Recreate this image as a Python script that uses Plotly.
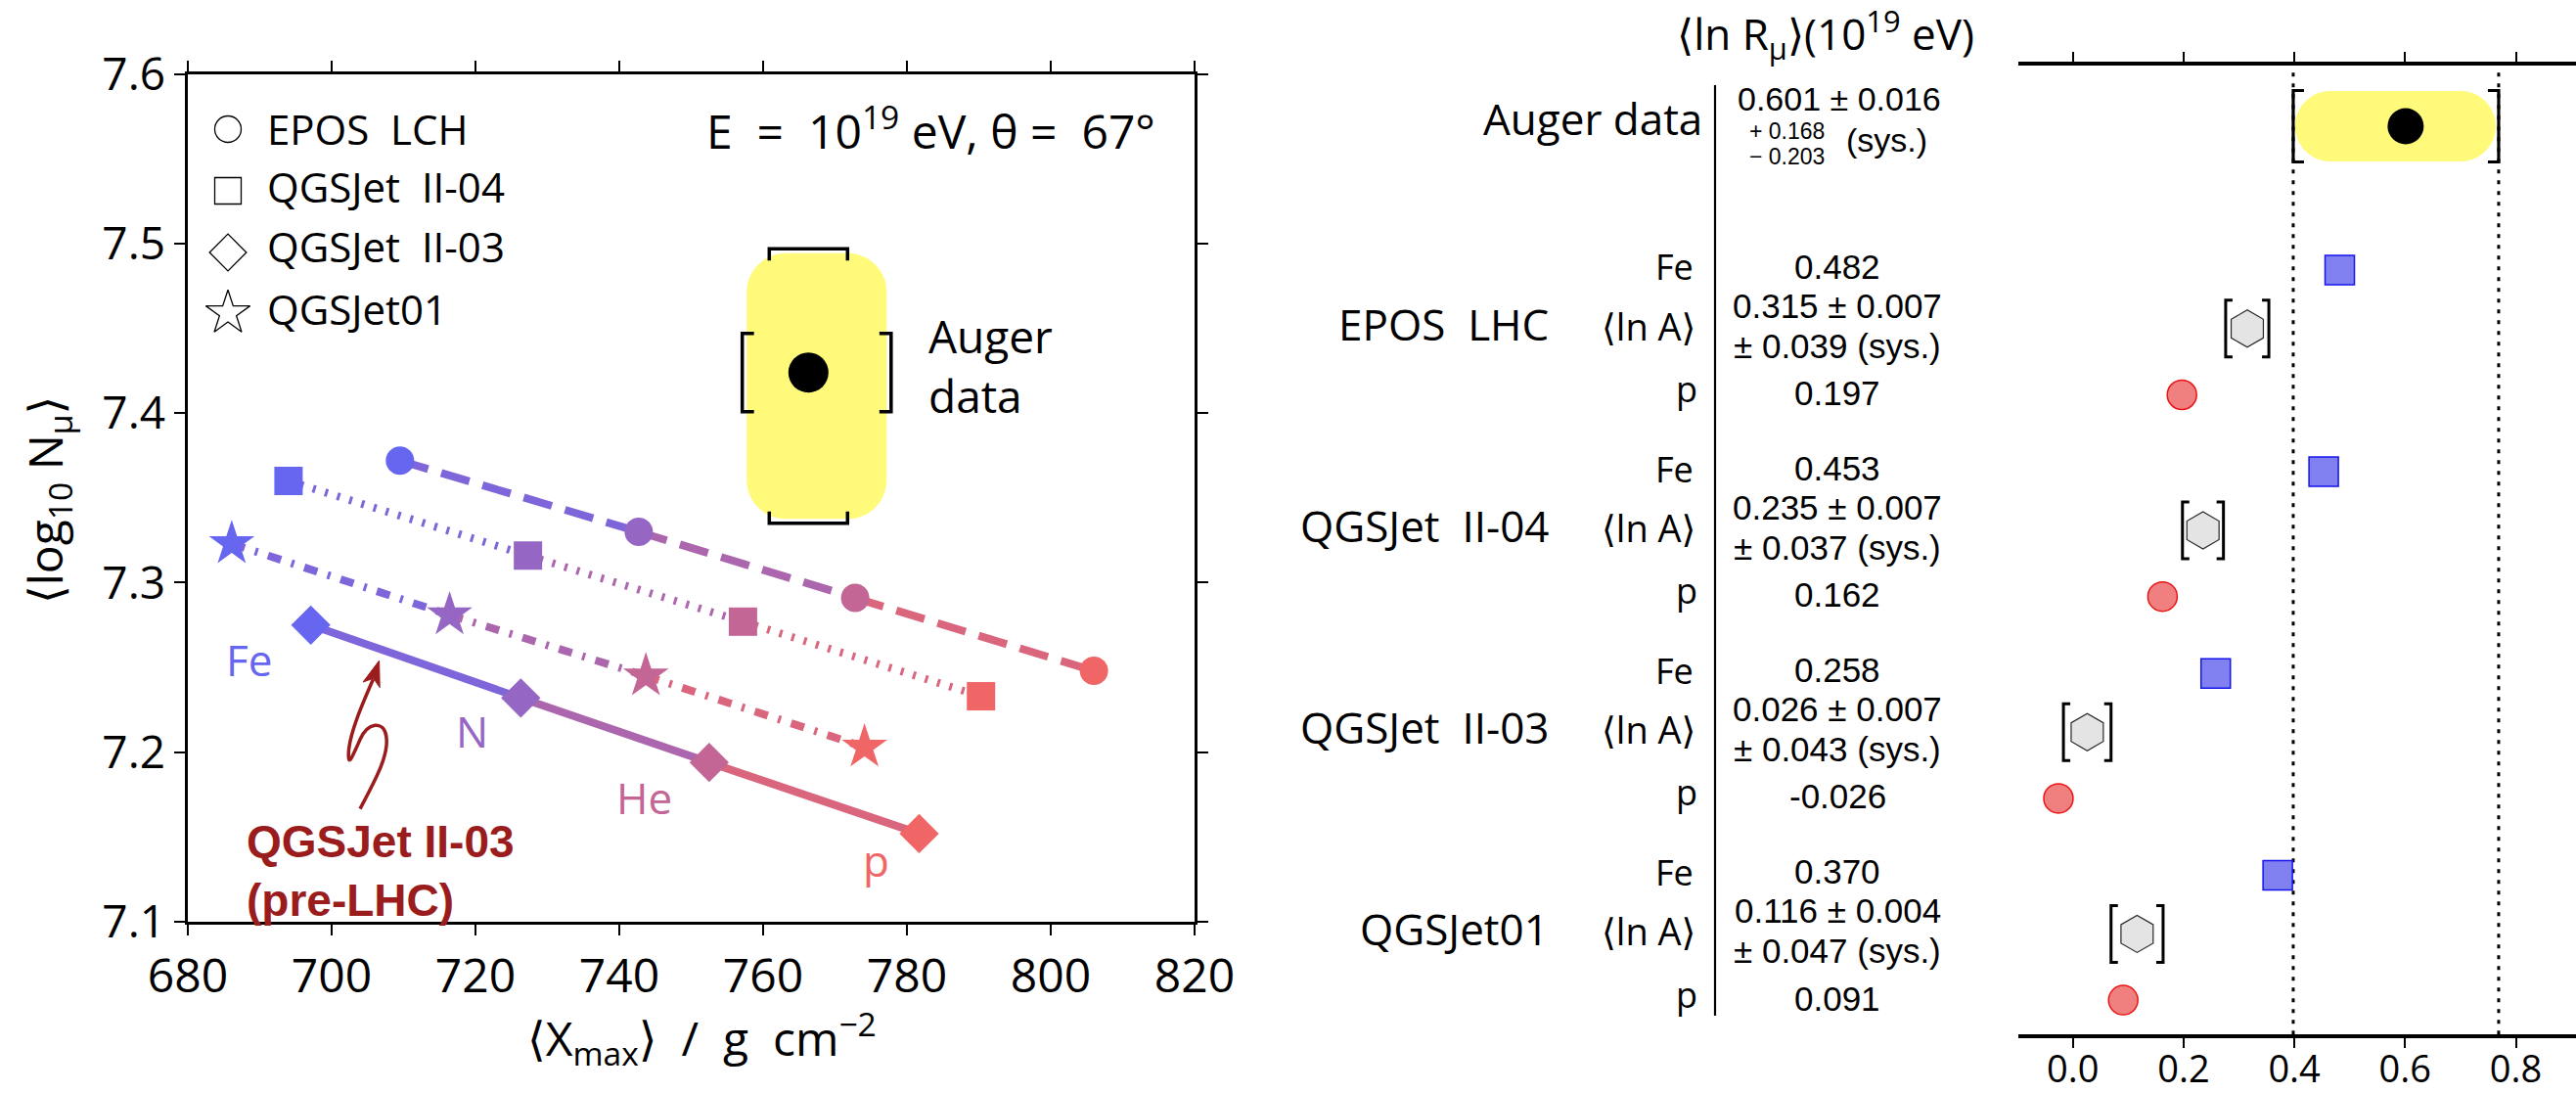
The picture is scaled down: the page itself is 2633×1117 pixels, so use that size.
import plotly.graph_objects as go

W, H = 2633, 1117
FONT = "Open Sans, Noto Sans, DejaVu Sans, sans-serif"
NUM_FONT = "Liberation Sans, Arial, Helvetica, sans-serif"
BOLD_FONT = "Liberation Sans, Arial, Helvetica, sans-serif"

# ---------------- left panel: <Xmax> vs <log10 N_mu> (E = 1e19 eV, 67 deg) ----------------
elements = ["Fe", "N", "He", "p"]

epos_xmax = [709.5, 742.7, 772.8, 806.0]
epos_lgn = [7.372, 7.330, 7.291, 7.248]
qgsjet_ii04_xmax = [694.0, 727.3, 757.2, 790.3]
qgsjet_ii04_lgn = [7.360, 7.316, 7.277, 7.233]
qgsjet_ii03_xmax = [697.1, 726.3, 752.5, 781.7]
qgsjet_ii03_lgn = [7.275, 7.232, 7.194, 7.152]
qgsjet01_xmax = [686.1, 716.4, 743.7, 774.1]
qgsjet01_lgn = [7.323, 7.281, 7.245, 7.203]

auger_xmax = 766.3
auger_xmax_sys = [9.2, 11.5]      # (minus, plus)
auger_lgn = 7.424
auger_lgn_sys = [0.089, 0.073]    # (minus, plus)

legend_names = ["EPOS\u00a0 LCH", "QGSJet\u00a0 II-04", "QGSJet\u00a0 II-03", "QGSJet01"]

x_tick_values = [680, 700, 720, 740, 760, 780, 800, 820]
y_tick_values = [7.1, 7.2, 7.3, 7.4, 7.5, 7.6]

# ---------------- right panel: <ln R_mu> at 1e19 eV ----------------
model_names = ["EPOS\u00a0 LHC", "QGSJet\u00a0 II-04", "QGSJet\u00a0 II-03", "QGSJet01"]
lnr_fe = [0.482, 0.453, 0.258, 0.370]
lnr_p = [0.197, 0.162, -0.026, 0.091]
lna_mean = [0.315, 0.235, 0.026, 0.116]
lna_stat = [0.007, 0.007, 0.007, 0.004]
lna_sys = [0.039, 0.037, 0.043, 0.047]

auger_lnr = 0.601
auger_lnr_stat = 0.016
auger_lnr_sys = [0.203, 0.168]    # (minus, plus)

lnr_tick_values = [0.0, 0.2, 0.4, 0.6, 0.8]

# ---------------- geometry (page pixels) ----------------
L_LEFT, L_RIGHT, L_TOP, L_BOTTOM = 192.0, 1221.0, 75.7, 942.0
X_RANGE = [680, 820]
Y_RANGE = [7.1, 7.6]
PX_X = (L_RIGHT - L_LEFT) / (X_RANGE[1] - X_RANGE[0])
PX_Y = (L_BOTTOM - L_TOP) / (Y_RANGE[1] - Y_RANGE[0])


def lx(px):
    return X_RANGE[0] + (px - L_LEFT) / PX_X


def ly(py):
    return Y_RANGE[1] - (py - L_TOP) / PX_Y


R_LEFT, R_TOP, R_BOTTOM = 2063.0, 67.2, 1057.3
R_ZERO, R_PX = 2118.7, 566.0
R_RANGE = [(R_LEFT - R_ZERO) / R_PX, (W - R_ZERO) / R_PX]

# row layout of the right panel (y2 axis runs in page pixels, top to bottom)
AUGER_ROW = 129.0
FIRST_ROW, GROUP_STEP, LNA_OFF, P_OFF = 275.9, 206.2, 59.9, 127.6
fe_rows = [FIRST_ROW + GROUP_STEP * g for g in range(len(model_names))]
lna_rows = [r + LNA_OFF for r in fe_rows]
p_rows = [r + P_OFF for r in fe_rows]

element_rgb = [(102, 102, 240), (150, 102, 196), (195, 102, 150), (240, 102, 102)]


def rgb(c):
    return "rgb(%d,%d,%d)" % c


def mix(c1, c2):
    return tuple(int(round((a + b) / 2)) for a, b in zip(c1, c2))


def rounded_rect(x0, x1, y0, y1, rx, ry):
    k = 0.5523
    return (f"M{x0 + rx},{y0} L{x1 - rx},{y0} "
            f"C{x1 - rx + k * rx},{y0} {x1},{y0 + ry - k * ry} {x1},{y0 + ry} "
            f"L{x1},{y1 - ry} "
            f"C{x1},{y1 - ry + k * ry} {x1 - rx + k * rx},{y1} {x1 - rx},{y1} "
            f"L{x0 + rx},{y1} "
            f"C{x0 + rx - k * rx},{y1} {x0},{y1 - ry + k * ry} {x0},{y1 - ry} "
            f"L{x0},{y0 + ry} "
            f"C{x0},{y0 + ry - k * ry} {x0 + rx - k * rx},{y0} {x0 + rx},{y0} Z")


def ann(text, xpx, ypx, size, xanchor="center", color="black", family=FONT, **kw):
    return dict(xref="paper", yref="paper", x=xpx / W, y=1 - ypx / H, text=text,
                showarrow=False, xanchor=xanchor, yanchor="middle",
                font=dict(family=family, size=size, color=color), **kw)


fig = go.Figure()
shapes = []
annotations = []

# ---------------- left panel: model lines ----------------
models_left = [
    (epos_xmax, epos_lgn, "30px,14px", "circle", 29),
    (qgsjet_ii04_xmax, qgsjet_ii04_lgn, "3px,10px", "square", 29),
    (qgsjet_ii03_xmax, qgsjet_ii03_lgn, "solid", "diamond", 31),
    (qgsjet01_xmax, qgsjet01_lgn, "14px,11px,3px,11px", "star", 35),
]
for xs, ys, dash, sym, size in models_left:
    for i in range(len(xs) - 1):
        fig.add_trace(go.Scatter(
            x=xs[i:i + 2], y=ys[i:i + 2], mode="lines", xaxis="x", yaxis="y",
            line=dict(color=rgb(mix(element_rgb[i], element_rgb[i + 1])), width=8, dash=dash),
            hoverinfo="skip"))
for xs, ys, dash, sym, size in models_left:
    fig.add_trace(go.Scatter(
        x=xs, y=ys, mode="markers", xaxis="x", yaxis="y",
        marker=dict(symbol=sym, size=size, color=[rgb(c) for c in element_rgb], line=dict(width=0))))

# element labels next to the QGSJet II-03 points
label_shift = [(-63, -35), (-50, -34), (-66, -36), (-44, -27)]
for i, el in enumerate(elements):
    annotations.append(dict(xref="x", yref="y", x=qgsjet_ii03_xmax[i], y=qgsjet_ii03_lgn[i],
                            text=el, showarrow=False, xanchor="center", yanchor="middle",
                            xshift=label_shift[i][0], yshift=label_shift[i][1],
                            font=dict(family=FONT, size=44, color=rgb(element_rgb[i]))))

# ---------------- left panel: Auger measurement ----------------
x_lo = auger_xmax - auger_xmax_sys[0]
x_hi = auger_xmax + auger_xmax_sys[1]
y_lo = auger_lgn - auger_lgn_sys[0]
y_hi = auger_lgn + auger_lgn_sys[1]
inset = 4.5
shapes.append(dict(type="path", xref="x", yref="y", layer="below",
                   path=rounded_rect(x_lo + inset / PX_X, x_hi - inset / PX_X,
                                     y_lo + inset / PX_Y, y_hi - inset / PX_Y,
                                     40 / PX_X, 40 / PX_Y),
                   fillcolor="#FFFA7A", line=dict(width=0)))
cap, tick = 40.0, 12.0
for yb, sgn in ((y_hi, -1), (y_lo, 1)):
    xa, xb = auger_xmax - cap / PX_X, auger_xmax + cap / PX_X
    yt = yb + sgn * tick / PX_Y
    shapes.append(dict(type="path", xref="x", yref="y",
                       path=f"M{xa},{yt} L{xa},{yb} L{xb},{yb} L{xb},{yt}",
                       line=dict(color="black", width=3.5)))
for xb, sgn in ((x_lo, 1), (x_hi, -1)):
    ya, yb2 = auger_lgn - cap / PX_Y, auger_lgn + cap / PX_Y
    xt = xb + sgn * tick / PX_X
    shapes.append(dict(type="path", xref="x", yref="y",
                       path=f"M{xt},{ya} L{xb},{ya} L{xb},{yb2} L{xt},{yb2}",
                       line=dict(color="black", width=3.5)))
fig.add_trace(go.Scatter(x=[auger_xmax], y=[auger_lgn], mode="markers", xaxis="x", yaxis="y",
                         marker=dict(symbol="circle", size=41, color="black")))
annotations.append(ann("Auger", 947, 343, 46, xanchor="left"))
annotations.append(ann("data", 947, 404, 46, xanchor="left"))

# ---------------- left panel: legend of interaction models ----------------
legend_rows = [132, 195, 258, 320]
legend_text_rows = [132, 190, 252, 315]
legend_syms = [("circle", 27), ("square", 27), ("diamond", 29), ("star", 34)]
for (sym, size), row in zip(legend_syms, legend_rows):
    fig.add_trace(go.Scatter(x=[lx(233)], y=[ly(row)], mode="markers", xaxis="x", yaxis="y",
                             marker=dict(symbol=sym, size=size, color="white",
                                         line=dict(color="black", width=1.3))))
for name, row in zip(legend_names, legend_text_rows):
    annotations.append(ann(name, 271, row, 42, xanchor="left"))

annotations.append(ann("E\u00a0 =\u00a0 10<sup>19</sup> eV, \u03b8 =\u00a0 67\u00b0", 1183, 131, 48,
                       xanchor="right"))

# pre-LHC annotation with a curled arrow
PRE_LHC = "rgb(155,28,28)"
annotations.append(ann("<b>QGSJet II-03</b>", 250, 860, 46, xanchor="left", color=PRE_LHC,
                       family=BOLD_FONT))
annotations.append(ann("<b>(pre-LHC)</b>", 250, 920, 46, xanchor="left", color=PRE_LHC,
                       family=BOLD_FONT))
curl = [(368.0, 826.6),
        (382.5, 799.1), (398.3, 771.5), (394.7, 751.9),
        (392.0, 736.1), (375.8, 738.1), (368.0, 755.8),
        (360.1, 773.5), (356.2, 783.3), (356.2, 771.5),
        (356.2, 751.9), (369.9, 720.4), (381.5, 694.0)]
pts = [f"{lx(px)},{ly(py)}" for px, py in curl]
curl_path = "M" + pts[0] + " " + " ".join(
    "C" + " ".join(pts[i:i + 3]) for i in range(1, len(pts), 3))
shapes.append(dict(type="path", xref="x", yref="y", path=curl_path,
                   line=dict(color=PRE_LHC, width=3.5)))
tip = (387.6, 675.1)
d = (tip[0] - 381.5, tip[1] - 694.0)
n = (d[0] ** 2 + d[1] ** 2) ** 0.5
d = (d[0] / n, d[1] / n)
perp = (-d[1], d[0])
base = (tip[0] - 26 * d[0], tip[1] - 26 * d[1])
notch = (tip[0] - 19 * d[0], tip[1] - 19 * d[1])
head = [tip, (base[0] + 9 * perp[0], base[1] + 9 * perp[1]), notch,
        (base[0] - 9 * perp[0], base[1] - 9 * perp[1])]
shapes.append(dict(type="path", xref="x", yref="y",
                   path="M" + " L".join(f"{lx(px)},{ly(py)}" for px, py in head) + " Z",
                   fillcolor=PRE_LHC, line=dict(color=PRE_LHC, width=1)))

# axis titles
annotations.append(ann("\u27e8log<sub>10</sub>\u00a0N<sub>\u03bc</sub>\u27e9", 49, 511, 48,
                       textangle=-90))
annotations.append(ann("\u27e8X<sub>max</sub>\u27e9\u00a0 /\u00a0 g\u00a0 cm<sup>\u22122</sup>",
                       717, 1061, 48))

# ---------------- right panel ----------------
# Auger band and systematic brackets
a_lo = auger_lnr - auger_lnr_sys[0]
a_hi = auger_lnr + auger_lnr_sys[1]
for xv in (a_lo, a_hi):
    shapes.append(dict(type="line", xref="x2", yref="y2 domain", x0=xv, x1=xv, y0=0, y1=1,
                       layer="below", line=dict(color="black", width=3, dash="4px,7px")))
shapes.append(dict(type="path", xref="x2", yref="y2", layer="below",
                   path=rounded_rect(a_lo + 2 / R_PX, a_hi - 3 / R_PX,
                                     AUGER_ROW - 36, AUGER_ROW + 36, 36 / R_PX, 36),
                   fillcolor="#FFFA7A", line=dict(width=0)))


def bracket_pair(lo, hi, row, half, tk, width):
    out = []
    for xb, sgn in ((lo, 1), (hi, -1)):
        xt = xb + sgn * tk / R_PX
        out.append(dict(type="path", xref="x2", yref="y2",
                        path=f"M{xt},{row - half} L{xb},{row - half} L{xb},{row + half} L{xt},{row + half}",
                        line=dict(color="black", width=width)))
    return out


shapes += bracket_pair(a_lo, a_hi, AUGER_ROW, 36.5, 11, 3.2)
for g in range(len(model_names)):
    shapes += bracket_pair(lna_mean[g] - lna_sys[g], lna_mean[g] + lna_sys[g],
                           lna_rows[g], 29, 7, 3)

fig.add_trace(go.Scatter(x=[auger_lnr], y=[AUGER_ROW], mode="markers", xaxis="x2", yaxis="y2",
                         marker=dict(symbol="circle", size=37, color="black")))
fig.add_trace(go.Scatter(x=lnr_fe, y=fe_rows, mode="markers", xaxis="x2", yaxis="y2",
                         marker=dict(symbol="square", size=30, color="rgb(128,128,240)",
                                     line=dict(color="rgb(20,20,235)", width=1.5))))
fig.add_trace(go.Scatter(x=lna_mean, y=lna_rows, mode="markers", xaxis="x2", yaxis="y2",
                         marker=dict(symbol="hexagon", size=38, color="rgb(228,228,228)",
                                     line=dict(color="rgb(40,40,40)", width=1.2))))
fig.add_trace(go.Scatter(x=lnr_p, y=p_rows, mode="markers", xaxis="x2", yaxis="y2",
                         marker=dict(symbol="circle", size=30, color="rgb(240,128,128)",
                                     line=dict(color="rgb(235,20,20)", width=1.5))))

# separator between labels and values
shapes.append(dict(type="line", xref="paper", yref="paper", x0=1753 / W, x1=1753 / W,
                   y0=1 - 87 / H, y1=1 - 1038 / H, line=dict(color="black", width=2.2)))

# text table
annotations.append(ann("\u27e8ln\u00a0R<sub>\u03bc</sub>\u27e9(10<sup>19</sup>\u00a0eV)", 1712, 35, 44,
                       xanchor="left"))
annotations.append(ann("Auger data", 1742, 121, 44, xanchor="right"))
annotations.append(ann(f"{auger_lnr:.3f} \u00b1 {auger_lnr_stat:.3f}", 1880, 101.5, 34,
                       family=NUM_FONT))
annotations.append(ann(f"+\u00a0{auger_lnr_sys[1]:.3f}", 1786, 134, 23, xanchor="left",
                       family=NUM_FONT))
annotations.append(ann(f"\u2212\u00a0{auger_lnr_sys[0]:.3f}", 1786, 159.5, 23, xanchor="left",
                       family=NUM_FONT))
annotations.append(ann("(sys.)", 1885, 143, 34, xanchor="left", family=NUM_FONT))

VAL_X = 1878
for g, name in enumerate(model_names):
    annotations.append(ann(name, 1585, lna_rows[g] - 5, 44, xanchor="right"))
    annotations.append(ann("\u27e8ln\u00a0A\u27e9", 1735, lna_rows[g] - 3, 38, xanchor="right"))
    annotations.append(ann("Fe", 1733, fe_rows[g] - 3, 36, xanchor="right"))
    annotations.append(ann("p", 1737, p_rows[g] - 6, 36, xanchor="right"))
    annotations.append(ann(f"{lnr_fe[g]:.3f}", VAL_X, fe_rows[g] - 3.5, 35, family=NUM_FONT))
    annotations.append(ann(f"{lna_mean[g]:.3f} \u00b1 {lna_stat[g]:.3f}", VAL_X,
                           lna_rows[g] - 23.5, 35, family=NUM_FONT))
    annotations.append(ann(f"\u00b1 {lna_sys[g]:.3f} (sys.)", VAL_X, lna_rows[g] + 17.5, 35,
                           family=NUM_FONT))
    annotations.append(ann(f"{lnr_p[g]:.3f}", VAL_X, p_rows[g] - 2, 35, family=NUM_FONT))

axis_common = dict(ticks="outside", showline=True, linecolor="black", mirror="ticks",
                   showgrid=False, zeroline=False, tickcolor="black", automargin=False)

fig.update_layout(
    width=W, height=H, autosize=False,
    margin=dict(l=0, r=0, t=0, b=0, pad=0, autoexpand=False),
    paper_bgcolor="white", plot_bgcolor="white", showlegend=False,
    shapes=shapes, annotations=annotations,
    xaxis=dict(domain=[L_LEFT / W, L_RIGHT / W], range=X_RANGE, anchor="y",
               tickvals=x_tick_values, ticklen=11, tickwidth=2, linewidth=3,
               tickfont=dict(family=FONT, size=48, color="black"), **axis_common),
    yaxis=dict(domain=[1 - L_BOTTOM / H, 1 - L_TOP / H], range=Y_RANGE, anchor="x",
               tickvals=y_tick_values, ticktext=[f"{v:.1f}" for v in y_tick_values],
               ticklen=11, tickwidth=2, linewidth=2.5,
               tickfont=dict(family=FONT, size=46, color="black"), **axis_common),
    xaxis2=dict(domain=[R_LEFT / W, 1.0], range=R_RANGE, anchor="y2",
                tickvals=lnr_tick_values, ticktext=[f"{v:.1f}" for v in lnr_tick_values],
                ticklen=10, tickwidth=1.8, linewidth=3.5, ticklabelstandoff=-11,
                tickfont=dict(family=FONT, size=38, color="black"), **axis_common),
    yaxis2=dict(domain=[1 - R_BOTTOM / H, 1 - R_TOP / H], range=[R_BOTTOM, R_TOP],
                anchor="x2", visible=False, automargin=False),
)

fig.write_html("out.html")
